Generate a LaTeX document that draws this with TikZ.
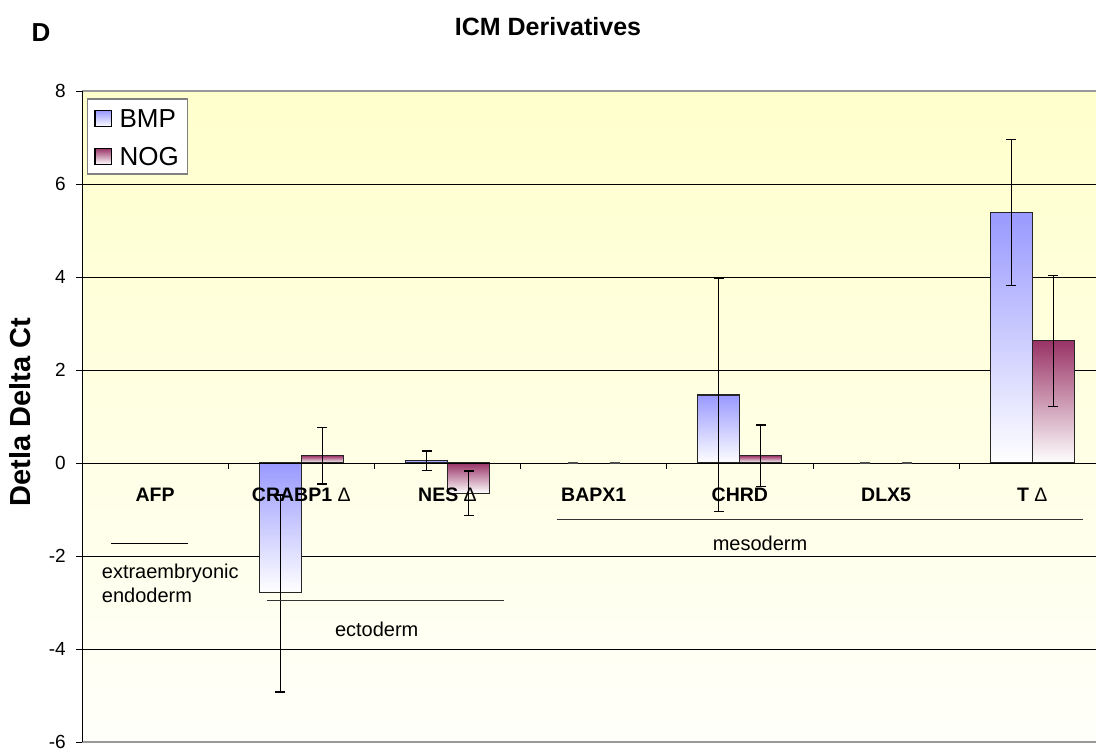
\documentclass[tikz,border=0pt]{standalone}
\usepackage{fontspec}
\setmainfont{Liberation Sans}
\definecolor{bmpblue}{RGB}{153,153,255}
\definecolor{nogred}{RGB}{153,51,102}
\definecolor{bgtop}{RGB}{255,255,204}
\definecolor{bgbot}{RGB}{255,255,250}
\newcommand\ebar[3]{\draw[errb] (#1,#2) -- (#1,#3) (#1-5,#2) -- (#1+5,#2) (#1-5,#3) -- (#1+5,#3);}
\begin{document}
\begin{tikzpicture}[x=1pt,y=-1pt,
  grid/.style={line width=0.9pt,black},
  border/.style={line width=1.3pt,black!40},
  barbmp/.style={draw=black!85,line width=1.1pt,top color=bmpblue,bottom color=white},
  barnog/.style={draw=black!85,line width=1.1pt,top color=nogred,bottom color=white},
  errb/.style={line width=1.1pt,black},
  zdash/.style={line width=1.6pt,black!70},
  ticklab/.style={anchor=east,font=\fontsize{19}{22}\selectfont,inner sep=0pt},
  catlab/.style={font=\fontsize{19.5}{22}\selectfont\bfseries,inner sep=0pt},
  annot/.style={font=\fontsize{20}{24}\selectfont,inner sep=0pt},
  legt/.style={font=\fontsize{26}{30}\selectfont,inner sep=0pt,anchor=west},
  swatch/.style={draw=black,line width=1.1pt,bottom color=white},
]
\useasboundingbox (0,0) rectangle (1096,754);
\fill[white] (0,0) rectangle (1096,754);
% plot area
\shade[top color=bgtop,bottom color=bgbot] (82,91) rectangle (1096,742);
\foreach \y in {184,277,370,556,649} \draw[grid] (76,\y) -- (1096,\y);
\draw[border] (82,91) -- (1096,91);
\draw[border] (82,742) -- (1096,742);
\draw[grid] (76,91) -- (82,91);
\draw[grid] (76,742) -- (82,742);
% bars
\draw[barbmp] (259.3,463) rectangle (301.3,592.3);
\draw[barnog] (301.3,455.7) rectangle (343.3,463);
\draw[barbmp] (405.5,460.7) rectangle (447.5,463);
\draw[barnog] (447.5,463) rectangle (489.5,493.3);
\draw[barbmp] (697.9,395) rectangle (739.9,463);
\draw[barnog] (739.9,455.7) rectangle (781.9,463);
\draw[barbmp] (990.3,212.7) rectangle (1032.3,463);
\draw[barnog] (1032.3,340.7) rectangle (1074.3,463);
% axes
\draw[grid] (82,91) -- (82,742);
\draw[grid] (76,463) -- (1096,463);
\foreach \x in {228.2,374.4,520.6,666.8,813,959.2} \draw[grid] (\x,463) -- (\x,469);
% tick labels
\node[ticklab] (t8) at (66,91) {8};
\node[ticklab] (t6) at (66,184) {6};
\node[ticklab] (t4) at (66,277) {4};
\node[ticklab] (t2) at (66,370) {2};
\node[ticklab] (t0) at (66,463) {0};
\node[ticklab] (tm2) at (66,556) {-2};
\node[ticklab] (tm4) at (66,649) {-4};
\node[ticklab] (tm6) at (66,742) {-6};
% category labels
\node[catlab] (afp) at (155.1,494.5) {AFP};
\node[catlab] (crabp) at (301.3,494.5) {CRABP1 {\mdseries\char"0394}};
\node[catlab] (nes) at (447.5,494.5) {NES {\mdseries\char"0394}};
\node[catlab] (bapx) at (593.7,494.5) {BAPX1};
\node[catlab] (chrd) at (739.9,494.5) {CHRD};
\node[catlab] (dlx) at (886.1,494.5) {DLX5};
\node[catlab] (tdel) at (1032.3,494.5) {T {\mdseries\char"0394}};
% error bars
\ebar{280.3}{495}{692}
\ebar{322.3}{427.3}{484}
\ebar{426.5}{451}{470.3}
\ebar{468.5}{471}{515.7}
\ebar{718.9}{278}{511.7}
\ebar{760.9}{425}{486.7}
\ebar{1011.3}{139.3}{285.7}
\ebar{1053.3}{275.7}{406.7}
\draw[zdash] (567.7,463) -- (577.7,463);
\draw[zdash] (609.7,463) -- (619.7,463);
\draw[zdash] (860.1,463) -- (870.1,463);
\draw[zdash] (902.1,463) -- (912.1,463);
% group annotations
\draw[line width=1pt] (111,543.3) -- (187.7,543.3);
\node[annot,anchor=base west] (ext1) at (101.7,578) {extraembryonic};
\node[annot,anchor=base west] (ext2) at (101.7,602) {endoderm};
\draw[line width=1pt,black!80] (266.7,600) -- (504.3,600);
\node[annot] (ecto) at (376.7,629) {ectoderm};
\draw[line width=1pt,black!80] (556.7,519.3) -- (1083.3,519.3);
\node[annot] (meso) at (760,543) {mesoderm};
% legend
\draw[draw=black!50,line width=1.2pt,fill=white] (87.3,99) rectangle (187.3,174);
\draw[swatch,top color=bmpblue] (95,110.7) rectangle (111.7,126.7);
\draw[swatch,top color=nogred] (95,148.3) rectangle (111.7,164.3);
\node[legt] (lbmp) at (119.3,119) {BMP};
\node[legt] (lnog) at (119.3,156.7) {NOG};
% titles
\node[font=\fontsize{29}{31}\selectfont\bfseries,rotate=90,inner sep=0pt] (ytitle) at (20,412) {Detla Delta Ct};
\node[font=\fontsize{25}{28}\selectfont\bfseries,inner sep=0pt] (title) at (548,27) {ICM Derivatives};
\node[font=\fontsize{26}{28}\selectfont\bfseries,inner sep=0pt] (dlab) at (41,33) {D};
\end{tikzpicture}
\end{document}
